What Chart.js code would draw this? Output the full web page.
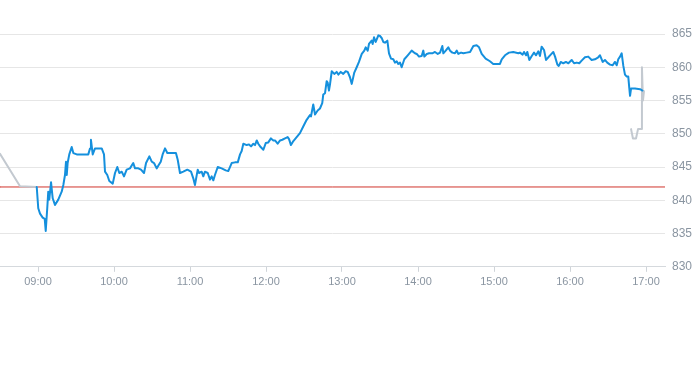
<!DOCTYPE html>
<html>
<head>
<meta charset="utf-8">
<script src="https://cdn.jsdelivr.net/npm/chart.js@4"></script>
<style>
  html, body { margin: 0; padding: 0; background: #ffffff; }
  #wrap { width: 693px; height: 365px; }
</style>
</head>
<body>
<div id="wrap"><canvas id="c" width="693" height="365"></canvas></div>
<script>
// Time is in minutes since midnight
const xMin = 510;   // 08:30
const xMax = 1035;  // 17:15
const xTickValues = [540, 600, 660, 720, 780, 840, 900, 960, 1020];
const xTickLabels = ["09:00", "10:00", "11:00", "12:00", "13:00", "14:00", "15:00", "16:00", "17:00"];
const yTickValues = [830, 835, 840, 845, 850, 855, 860, 865];

const referenceLevel = 842;

// Pre-session (grey)
const preTimes = [510, 525.8, 539.0];
const preValues = [847.0, 842.1, 842.0];

// Session (blue)
const mainTimes = [
  539.0, 540.2, 541.6, 543.7, 545.3, 546.1, 547.3, 548.1, 548.9, 550.3,
  551.6, 553.4, 556.0, 558.7, 560.0, 561.3, 562.1, 562.7, 563.4, 564.7,
  566.6, 567.9, 570.6, 575.8, 579.7, 581.1, 581.8, 583.2, 585.0, 590.3,
  592.1, 592.9, 594.7, 596.3, 599.0, 600.8, 602.6, 604.2, 606.1, 607.9,
  610.0, 612.6, 615.2, 616.6, 619.2, 621.3, 623.7, 625.3, 627.9, 629.8,
  631.6, 633.7, 635.3, 636.9, 638.4, 640.3, 642.1, 644.2, 648.9, 650.3,
  652.1, 654.7, 657.9, 660.8, 662.6, 663.9, 666.1, 667.1, 669.2, 670.5,
  671.8, 674.0, 675.8, 677.1, 678.4, 679.7, 681.9, 685.0, 688.2, 690.2,
  692.9, 695.5, 697.7, 699.5, 700.8, 702.1, 704.8, 706.6, 708.2, 710.0,
  711.3, 712.7, 713.9, 715.8, 717.9, 719.8, 721.8, 723.9, 725.8, 727.1,
  729.2, 731.1, 732.9, 735.0, 737.1, 738.2, 739.7, 741.6, 744.2, 746.8,
  749.4, 752.1, 754.7, 755.5, 757.3, 758.7, 760.8, 762.6, 764.4, 765.2,
  766.6, 767.9, 768.7, 769.7, 770.5, 771.9, 773.9, 775.8, 777.1, 779.0,
  781.0, 782.9, 784.5, 786.3, 787.7, 789.7, 791.6, 793.4, 795.6, 797.6,
  798.7, 800.3, 801.3, 803.4, 804.2, 805.3, 806.6, 808.7, 810.0, 811.3,
  812.6, 813.9, 815.8, 817.1, 818.7, 820.5, 821.8, 823.2, 824.4, 825.8,
  827.1, 829.2, 831.9, 835.0, 837.6, 839.0, 840.8, 842.9, 844.2, 845.0,
  846.9, 848.7, 851.3, 853.4, 855.6, 857.4, 859.2, 860.0, 861.9, 863.9,
  865.3, 867.1, 869.2, 870.6, 871.8, 874.0, 875.8, 878.4, 881.1, 883.7,
  886.3, 888.2, 890.3, 893.4, 896.8, 899.4, 902.1, 904.7, 906.1, 908.7,
  911.8, 915.2, 919.2, 920.5, 922.6, 923.7, 925.3, 926.3, 927.9, 929.8,
  931.6, 933.2, 935.0, 936.3, 937.6, 939.5, 941.1, 942.9, 944.8, 946.8,
  948.2, 950.0, 951.1, 952.7, 954.7, 956.8, 958.7, 961.3, 963.2, 965.3,
  967.3, 969.2, 971.8, 974.4, 977.1, 979.7, 982.3, 983.7, 985.8, 987.6,
  989.4, 991.6, 993.7, 995.5, 996.9, 998.1, 999.5, 1000.8, 1002.1, 1003.4,
  1004.8, 1006.0, 1006.8, 1007.4, 1008.2, 1011.3, 1015.3, 1017.2
];
const mainValues = [
  842.0, 838.8, 838.0, 837.4, 837.2, 835.4, 838.8, 841.3, 840.1, 842.7,
  840.3, 839.3, 840.1, 841.3, 842.3, 843.8, 845.8, 843.8, 845.6, 846.9,
  848.0, 847.1, 846.9, 846.9, 846.9, 847.8, 849.1, 846.9, 847.8, 847.8,
  846.9, 844.3, 843.8, 842.9, 842.5, 844.1, 845.0, 844.1, 844.3, 843.6,
  844.6, 844.8, 845.6, 844.8, 844.8, 844.6, 844.1, 845.6, 846.6, 845.8,
  845.6, 844.8, 845.3, 845.8, 846.9, 847.8, 847.1, 847.1, 847.1, 846.1,
  844.1, 844.3, 844.6, 844.3, 843.3, 842.3, 844.6, 844.1, 844.3, 843.6,
  844.3, 844.1, 843.1, 843.6, 843.0, 843.8, 845.0, 844.8, 844.5, 844.4,
  845.6, 845.7, 845.7, 846.9, 847.4, 848.5, 848.3, 848.4, 848.1, 848.5,
  848.3, 849.0, 848.5, 848.0, 847.6, 848.6, 848.7, 849.3, 849.0, 849.0,
  848.5, 849.0, 849.1, 849.3, 849.5, 849.2, 848.3, 848.9, 849.5, 850.1,
  851.1, 852.1, 852.8, 852.6, 854.4, 852.9, 853.5, 853.8, 854.6, 855.9,
  856.1, 857.9, 857.7, 856.5, 857.4, 859.4, 859.0, 859.3, 858.9, 859.3,
  859.0, 859.4, 859.3, 858.5, 857.5, 859.2, 860.0, 860.8, 862.0, 862.5,
  863.0, 862.5, 863.5, 864.0, 863.5, 864.5, 863.8, 864.8, 864.7, 864.4,
  863.8, 863.7, 864.0, 862.1, 861.3, 861.2, 860.7, 860.9, 860.5, 860.7,
  860.0, 861.2, 861.8, 862.5, 862.1, 862.0, 861.6, 861.7, 862.5, 861.6,
  862.0, 862.1, 862.1, 862.3, 862.0, 862.2, 863.2, 862.1, 862.5, 863.0,
  862.5, 862.2, 862.1, 862.5, 862.0, 862.2, 862.1, 862.2, 862.3, 863.2,
  863.3, 863.0, 862.0, 861.3, 860.9, 860.5, 860.5, 860.5, 861.2, 861.8,
  862.2, 862.3, 862.1, 862.2, 861.9, 862.3, 861.8, 862.3, 861.1, 861.7,
  862.2, 861.8, 862.4, 861.7, 863.1, 862.6, 861.1, 861.5, 861.9, 862.3,
  861.6, 860.4, 860.2, 860.8, 860.6, 860.8, 860.6, 861.1, 860.6, 860.7,
  860.6, 861.0, 861.5, 861.6, 861.1, 861.2, 861.5, 861.8, 860.8, 861.1,
  860.7, 860.4, 860.3, 860.8, 860.3, 861.2, 861.6, 862.1, 860.2, 858.9,
  858.6, 858.6, 856.9, 855.7, 856.8, 856.8, 856.7, 856.5
];

// Post-session (grey)
const postTimes = [1008.2, 1009.7, 1012.1, 1013.7, 1016.1, 1016.8, 1017.6, 1018.4];
const postValues = [850.7, 849.3, 849.3, 850.7, 850.7, 860.0, 855.0, 856.4];

const toPoints = (xs, ys) => xs.map((x, i) => ({ x: x, y: ys[i] }));

const tickColor = "#8a95a1";
const gridColor = "#e6e6e6";
const fontFamily = "'Liberation Sans', Arial, sans-serif";

new Chart(document.getElementById("c"), {
  type: "line",
  data: {
    datasets: [
      {
        label: "reference",
        data: [{ x: xMin, y: referenceLevel }, { x: xMax, y: referenceLevel }],
        borderColor: "#d0342c",
        borderWidth: 1,
        pointRadius: 0,
        order: 3
      },
      {
        label: "pre",
        data: toPoints(preTimes, preValues),
        borderColor: "#c3c9d0",
        borderWidth: 2,
        pointRadius: 0,
        order: 2
      },
      {
        label: "post",
        data: toPoints(postTimes, postValues),
        borderColor: "#c3c9d0",
        borderWidth: 2,
        pointRadius: 0,
        order: 2
      },
      {
        label: "price",
        data: toPoints(mainTimes, mainValues),
        borderColor: "#1590dd",
        borderWidth: 2,
        pointRadius: 0,
        order: 1
      }
    ]
  },
  options: {
    responsive: false,
    animation: false,
    devicePixelRatio: 1,
    layout: { padding: { top: 34, left: 0, right: 0, bottom: 72 } },
    plugins: {
      legend: { display: false },
      tooltip: { enabled: false }
    },
    elements: { line: { tension: 0, borderJoinStyle: "round", borderCapStyle: "round" } },
    scales: {
      x: {
        type: "linear",
        min: xMin,
        max: xMax,
        afterBuildTicks: (scale) => { scale.ticks = xTickValues.map(v => ({ value: v })); },
        grid: { drawOnChartArea: false, drawTicks: true, tickLength: 5, color: "#cfd4d9" },
        border: { display: true, color: "#d5d9dd" },
        ticks: {
          autoSkip: false,
          maxRotation: 0,
          padding: 4,
          color: tickColor,
          font: { family: fontFamily, size: 11 },
          callback: (v) => {
            const i = xTickValues.indexOf(v);
            return i >= 0 ? xTickLabels[i] : "";
          }
        }
      },
      y: {
        position: "right",
        min: 830,
        max: 865,
        afterBuildTicks: (scale) => { scale.ticks = yTickValues.map(v => ({ value: v })); },
        afterFit: (scale) => { scale.width = 28; },
        grid: { drawTicks: false, tickLength: 0, color: gridColor },
        border: { display: false },
        ticks: {
          padding: 7,
          color: tickColor,
          font: { family: fontFamily, size: 12 }
        }
      }
    }
  }
});
</script>
</body>
</html>
